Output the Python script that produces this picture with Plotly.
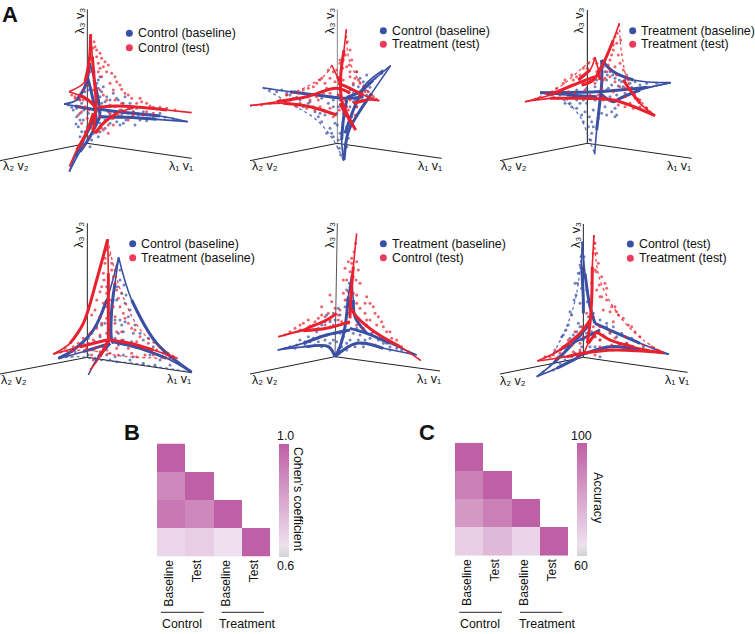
import plotly.graph_objects as go

W, H = 755, 634
BLUE = "#3a50a4"
RED = "#e9212e"
LEG_RED = "#ee3a5f"
FONT = "Liberation Sans, Arial, sans-serif"

# ---------- A: projected coordinates (1 px = 3 units) ----------
P1_BLUE_ARMS = [
    [(563,365),(480,348),(400,340),(330,332),(285,325)],
    [(563,365),(470,358),(380,352),(300,350)],
    [(270,190),(262,230),(275,280),(285,330),(290,370)],
    [(270,190),(282,240),(295,300),(300,350)],
    [(192,312),(225,318),(260,325),(290,330)],
    [(192,312),(230,300),(255,260),(270,190)],
    [(208,515),(225,470),(250,420),(275,370),(290,330)],
    [(208,515),(240,455),(270,410),(300,350)],
]
P1_BLUE_CLOUD = [(300,230),(310,260),(320,290),(340,280),(355,300),(375,290),(390,310),(410,325),(430,335),(450,345),(480,340),(330,345),(350,365),(370,370),(395,350),(420,360),(300,370),(315,385),(240,340),(250,360),(235,380),(255,395),(240,410),(230,350),(220,330),(300,290),(290,250),(265,270),(250,290),(330,320),(345,335),(365,345),(385,340),(310,350),(280,400),(295,410),(275,420),(270,440),(245,310),(305,310),
    (295,240),(282,215),(305,275),(315,305),(325,335),(335,355),(345,320),(355,350),(365,330),(378,360),(400,335),(415,345),(440,355),(460,350),(495,352),(520,358),(405,375),(440,362),(350,295),(370,310),(385,325),(300,335),(260,300),(265,340),(252,330),(240,360),(228,372),(245,395),(262,380),(248,425),(300,395),(315,360),(285,355),(255,275),(238,298),(215,322),(205,315),(230,325),(345,350),(330,370),(360,375),(295,265),(330,300)]
P1_RED_ARMS = [
    [(575,338),(500,330),(420,322),(350,318),(295,322)],
    [(272,103),(277,170),(283,240),(288,300),(285,350),(280,395)],
    [(207,275),(235,285),(262,298),(285,320)],
    [(207,275),(255,245),(268,180),(272,103)],
    [(208,500),(230,450),(258,400),(280,340)],
    [(400,325),(350,340),(310,370),(285,400)],
]
P1_RED_CLOUD = [(285,140),(300,160),(295,190),(315,185),(320,215),(345,230),(330,250),(360,255),(375,280),(395,295),(420,295),(440,310),(305,230),(300,270),(345,300),(365,310),(460,322),(480,322),(340,355),(325,375),(325,400),(310,390),(240,320),(235,345),(250,300),(225,295),(245,370),(262,355),(265,410),(300,205),(290,170),(400,345),(430,345),(385,360),(355,345),(250,440),(320,300),(280,270),
    (290,150),(282,125),(278,145),(305,175),(310,200),(325,195),(335,220),(350,245),(340,270),(365,268),(385,285),(410,310),(425,305),(450,318),(500,325),(525,330),(295,215),(310,285),(330,315),(360,330),(375,335),(400,335),(440,335),(460,340),(330,340),(315,365),(305,385),(295,395),(285,370),(265,330),(245,335),(225,290),(215,285),(240,300),(255,320),(262,255),(270,215),(250,270),(300,350),(275,385),(340,375)]

P2_BLUE_ARMS = [
    [(422,197),(370,240),(330,275),(290,292)],
    [(422,197),(365,280),(325,340),(295,395),(282,480)],
    [(38,263),(120,275),(200,285),(290,295),(340,290)],
    [(281,483),(275,420),(280,360),(290,300)],
    [(400,210),(345,255),(310,330),(285,400)],
]
P2_BLUE_EDGES = [[(38,263),(120,310),(200,360),(250,420),(281,483)]]
P2_BLUE_CLOUD = [(350,225),(330,235),(310,255),(320,215),(300,270),(250,300),(220,330),(205,350),(240,385),(245,400),(190,320),(150,300),(120,285),(95,270),(135,275),(260,340),(270,400),(300,320),(315,300),(290,380),(265,420),(235,310),(180,305),(160,320),(255,370),
    (395,220),(375,235),(355,250),(340,245),(325,260),(345,270),(360,262),(335,300),(350,285),(315,320),(305,350),(300,375),(310,305),(270,300),(265,320),(250,320),(240,340),(225,345),(210,340),(195,335),(175,310),(140,292),(110,280),(80,275),(60,268),(215,365),(230,400),(250,410),(268,445),(272,465),(262,375),(280,340),(295,415),(290,440),(320,320),(175,290),(215,295),(245,290),(265,285),(310,280)]
P2_RED_ARMS = [
    [(0,317),(80,305),(170,290),(260,265),(300,280)],
    [(0,317),(100,310),(180,320),(260,345)],
    [(289,88),(282,150),(272,230),(275,300),(295,350),(317,390)],
    [(388,302),(340,285),(300,265),(265,250)],
    [(388,302),(350,300),(310,310)],
    [(317,390),(290,350),(270,310)],
    [(245,195),(262,230),(272,250)],
]
P2_RED_EDGES = [[(289,88),(295,170),(310,210),(340,260),(388,302)],[(245,195),(225,225),(170,260),(100,290)]]
P2_RED_CLOUD = [(300,150),(305,180),(320,215),(325,240),(300,230),(290,200),(270,190),(210,240),(190,260),(160,270),(130,295),(110,285),(230,265),(180,300),(140,320),(210,320),(240,325),(270,180),(310,250),(345,275),(250,215),(225,250),(200,290),(290,320),(315,345),
    (292,125),(286,165),(298,195),(278,205),(300,215),(315,235),(330,250),(355,275),(370,290),(280,240),(255,245),(240,235),(215,235),(200,250),(175,265),(145,280),(120,300),(90,300),(60,310),(35,315),(150,310),(170,325),(195,330),(225,335),(250,350),(268,330),(285,300),(265,285),(240,280),(220,280),(205,300),(300,300),(320,320),(305,365),(295,330),(330,290),(360,295),(280,180),(260,210),(235,210)]

P3_BLUE_ARMS = [
    [(512,248),(440,262),(360,270),(290,275),(120,278)],
    [(120,278),(200,285),(290,290)],
    [(284,463),(290,390),(298,320),(305,250),(305,180)],
    [(512,248),(400,240),(340,215),(305,180)],
    [(512,248),(420,270),(360,295),(340,305),(300,280)],
]
P3_BLUE_EDGES = [[(120,278),(190,300),(240,350),(265,410),(284,463)]]
P3_BLUE_CLOUD = [(330,215),(345,235),(365,245),(390,250),(420,255),(320,240),(335,255),(315,215),(210,310),(230,325),(245,345),(250,365),(265,380),(275,400),(345,325),(350,345),(320,345),(280,330),(260,310),(220,290),(180,285),(330,290),(305,340),(275,365),(230,300),
    (310,200),(322,225),(338,225),(358,240),(375,240),(405,245),(440,250),(470,250),(355,258),(395,262),(425,265),(375,280),(350,285),(320,270),(285,260),(260,265),(230,270),(200,278),(165,280),(145,285),(175,295),(195,310),(215,320),(240,310),(255,335),(268,350),(280,380),(272,420),(295,355),(335,335),(315,320),(285,300),(345,350),(325,265),(310,300),(290,240),(265,295),(250,300),(370,260),(440,262)]
P3_RED_ARMS = [
    [(358,70),(340,120),(310,190),(280,240),(245,255)],
    [(75,305),(150,285),(220,255),(285,230)],
    [(75,305),(150,295),(250,295),(340,300),(465,347)],
    [(465,347),(420,310),(390,270),(370,240)],
    [(285,172),(270,210),(235,240)],
    [(285,172),(295,210),(300,240)],
]
P3_RED_EDGES = [[(358,70),(365,160),(390,260),(465,347)],[(285,172),(240,210),(180,260),(100,298)]]
P3_RED_CLOUD = [(350,130),(340,150),(355,165),(330,180),(345,200),(320,215),(370,210),(350,225),(385,240),(400,285),(375,290),(355,315),(390,310),(215,225),(190,250),(250,205),(230,230),(165,275),(205,275),(255,270),(330,230),(310,240),(420,320),(290,215),(360,260),
    (345,110),(352,100),(340,135),(362,120),(360,190),(335,165),(325,195),(300,205),(315,235),(285,250),(262,205),(240,225),(220,240),(195,240),(170,265),(140,280),(115,295),(180,280),(225,280),(270,285),(305,265),(340,275),(375,265),(395,275),(405,295),(420,300),(440,325),(375,320),(400,325),(345,300),(310,290),(250,250),(270,245),(265,190),(290,190),(330,210),(345,245),(380,225),(295,285),(200,298)]

P4_BLUE_ARMS = [
    [(356,172),(345,250),(335,330),(335,420),(340,430)],
    [(575,517),(500,475),(420,445),(340,425)],
    [(175,475),(250,455),(330,430)],
    [(265,525),(295,470),(330,430)],
    [(356,172),(320,300),(280,390),(220,450),(175,475)],
    [(356,172),(395,300),(470,430),(575,517)],
]
P4_BLUE_EDGES = [[(175,475),(240,470),(300,480),(400,490),(575,517)]]
P4_BLUE_CLOUD = [(360,240),(365,280),(350,300),(375,310),(385,350),(360,360),(370,395),(400,400),(430,420),(410,440),(300,350),(315,370),(290,380),(265,415),(250,430),(345,470),(370,465),(330,480),(400,470),(450,465),(480,480),(310,440),(280,450),(355,400),(340,280),(320,260),(330,390),
    (350,200),(360,210),(372,255),(378,285),(352,260),(340,300),(390,330),(375,365),(405,375),(420,400),(445,415),(460,440),(490,460),(510,475),(445,450),(395,425),(370,420),(345,415),(355,435),(320,400),(300,410),(285,425),(305,375),(275,400),(245,440),(225,455),(205,465),(265,465),(285,475),(320,465),(350,485),(390,480),(430,490),(465,495),(510,495),(330,340),(320,320),(345,360),(310,325),(365,375)]
P4_RED_ARMS = [
    [(323,118),(325,220),(325,340),(325,430)],
    [(533,475),(460,450),(390,430),(330,420)],
    [(160,462),(240,440),(320,420)],
    [(270,510),(300,470),(325,420)],
    [(160,462),(210,430),(250,370),(290,240),(323,118)],
]
P4_RED_EDGES = [[(323,118),(365,280),(430,400),(533,475)],[(160,462),(250,450),(380,470),(533,475)]]
P4_RED_CLOUD = [(315,190),(335,190),(310,220),(340,230),(305,260),(350,270),(330,300),(360,320),(290,300),(370,340),(385,370),(300,350),(405,390),(280,420),(265,430),(345,370),(410,425),(445,430),(365,395),(300,405),(250,415),(220,440),(350,445),(300,440),(275,465),(395,460),(460,465),
    (320,150),(328,165),(315,175),(335,210),(312,240),(345,250),(300,275),(355,295),(320,280),(310,310),(340,320),(285,330),(275,345),(320,355),(345,350),(375,355),(395,385),(420,410),(350,395),(365,420),(385,445),(430,445),(470,450),(500,465),(435,465),(355,465),(330,460),(285,445),(260,445),(235,430),(215,455),(195,445),(270,400),(290,385),(305,370),(345,420),(280,480),(300,455),(320,450),(410,470)]

P5_BLUE_ARMS = [
    [(305,225),(295,290),(285,380),(270,440),(255,470)],
    [(83,450),(160,430),(230,405),(300,390)],
    [(83,450),(170,440),(235,440),(255,470)],
    [(500,465),(420,430),(350,400),(300,385)],
    [(500,465),(400,445),(320,430),(255,470)],
    [(305,225),(310,300),(315,350),(350,400)],
]
P5_BLUE_CLOUD = [(230,345),(250,340),(265,325),(215,375),(190,415),(165,425),(140,435),(205,425),(225,420),(250,400),(280,410),(300,420),(330,405),(360,415),(385,420),(410,430),(440,445),(340,440),(375,435),(290,450),(275,420),(300,260),(290,300),(310,330),(265,375),(240,380),(200,395),(320,385),(350,430),(420,450),
    (298,250),(290,270),(305,285),(285,320),(295,340),(270,345),(255,360),(240,365),(225,365),(205,385),(175,410),(150,420),(120,440),(105,445),(135,445),(165,435),(195,435),(215,440),(240,430),(260,425),(270,400),(285,395),(310,400),(325,420),(345,420),(365,400),(395,420),(420,440),(455,450),(475,458),(265,450),(275,440),(290,430),(315,440),(335,430),(400,430),(230,405),(210,410),(180,425),(250,420)]
P5_RED_ARMS = [
    [(320,100),(310,200),(302,300),(300,355)],
    [(85,410),(160,392),(230,385),(300,365)],
    [(85,410),(170,385),(230,360),(260,340)],
    [(513,482),(450,440),(380,400),(320,350),(300,320)],
]
P5_RED_CLOUD = [(295,185),(285,205),(325,210),(280,240),(330,250),(290,240),(240,285),(215,320),(245,305),(285,300),(360,310),(370,320),(345,340),(385,350),(350,375),(175,360),(150,375),(120,395),(195,365),(225,350),(265,360),(380,375),(410,395),(425,415),(440,420),(295,275),(320,285),(370,395),(305,175),(330,325),
    (317,130),(312,155),(305,190),(300,215),(320,185),(310,230),(318,240),(305,260),(280,280),(270,330),(255,325),(265,345),(235,340),(215,345),(240,360),(205,355),(190,375),(160,370),(135,385),(105,405),(350,290),(375,340),(395,365),(420,395),(455,440),(475,455),(360,360),(345,310),(320,310),(310,280),(400,380),(350,360),(340,385),(320,375),(295,370),(275,365),(250,375),(225,375),(180,378),(150,390)]

P6_BLUE_ARMS = [
    [(247,125),(255,220),(270,320),(285,370)],
    [(247,125),(245,200),(250,300),(250,340)],
    [(507,463),(420,430),(340,395),(285,370)],
    [(507,463),(420,450),(330,440),(230,470)],
    [(110,530),(160,490),(220,430),(270,370)],
    [(110,530),(170,505),(240,470)],
    [(160,460),(240,420),(300,390)],
]
P6_BLUE_EDGES = [[(247,125),(230,280),(200,380),(160,460)]]
P6_BLUE_CLOUD = [(235,220),(228,285),(215,345),(205,375),(190,405),(225,250),(240,310),(300,420),(330,420),(350,410),(380,430),(300,450),(270,440),(245,440),(220,405),(205,440),(190,470),(170,480),(240,380),(320,380),(355,430),(400,440),(260,400),(285,410),(225,460),(160,510),(180,490),(310,405),(265,350),(340,450),
    (243,170),(252,170),(240,195),(232,250),(222,300),(210,335),(198,390),(185,410),(260,270),(245,265),(262,305),(280,340),(300,360),(320,370),(340,380),(365,400),(395,415),(430,440),(460,445),(480,455),(330,400),(295,400),(275,395),(250,385),(230,395),(210,415),(195,445),(175,470),(150,495),(130,515),(195,480),(215,470),(240,455),(260,460),(285,440),(320,440),(370,445),(300,470),(250,420),(235,370)]
P6_RED_ARMS = [
    [(282,105),(277,200),(275,300),(270,370),(262,430)],
    [(490,458),(400,440),(330,420),(290,395)],
    [(112,483),(180,450),(240,400),(270,360)],
    [(112,483),(200,470),(250,460),(340,450),(490,458)],
    [(250,465),(265,430),(290,395)],
]
P6_RED_EDGES = [[(282,105),(300,240),(360,350),(430,420),(490,458)]]
P6_RED_CLOUD = [(290,160),(295,190),(305,230),(315,250),(320,265),(300,290),(335,320),(350,335),(370,355),(385,375),(405,395),(285,210),(290,270),(310,330),(340,365),(375,410),(430,435),(200,435),(180,460),(160,465),(225,415),(240,430),(265,400),(300,420),(330,395),(280,380),(150,470),(220,455),(300,440),(360,435),
    (285,130),(280,160),(288,215),(298,255),(275,250),(305,290),(320,300),(330,335),(345,320),(355,345),(395,380),(420,410),(455,440),(470,450),(260,340),(245,380),(225,395),(205,420),(190,440),(165,450),(135,470),(170,475),(195,470),(235,470),(285,465),(320,450),(390,450),(430,450),(250,410),(285,410),(315,410),(345,415),(265,370),(280,350),(300,380),(335,435),(380,430),(240,450),(215,435),(180,450)]

PANEL_SERIES = [
    ("Control (baseline)", "Control (test)"),
    ("Control (baseline)", "Treatment (test)"),
    ("Treatment (baseline)", "Treatment (test)"),
    ("Control (baseline)", "Treatment (baseline)"),
    ("Treatment (baseline)", "Control (test)"),
    ("Control (test)", "Treatment (test)"),
]
PANEL_DATA = [
    (P1_BLUE_ARMS, [], P1_BLUE_CLOUD, P1_RED_ARMS, [], P1_RED_CLOUD),
    (P2_BLUE_ARMS, P2_BLUE_EDGES, P2_BLUE_CLOUD, P2_RED_ARMS, P2_RED_EDGES, P2_RED_CLOUD),
    (P3_BLUE_ARMS, P3_BLUE_EDGES, P3_BLUE_CLOUD, P3_RED_ARMS, P3_RED_EDGES, P3_RED_CLOUD),
    (P4_BLUE_ARMS, P4_BLUE_EDGES, P4_BLUE_CLOUD, P4_RED_ARMS, P4_RED_EDGES, P4_RED_CLOUD),
    (P5_BLUE_ARMS, [], P5_BLUE_CLOUD, P5_RED_ARMS, [], P5_RED_CLOUD),
    (P6_BLUE_ARMS, P6_BLUE_EDGES, P6_BLUE_CLOUD, P6_RED_ARMS, P6_RED_EDGES, P6_RED_CLOUD),
]
# panel frame: left, top, width, height in px
PANEL_BOX = [(0,0,250,190),(250,0,250,190),(500,0,255,190),(0,200,250,190),(250,200,250,190),(500,200,255,190)]
# origin, z-axis top, x-axis end, y-axis end, in crop units
AXES_GEOM = [
    ((262,430),(262,28),(575,475),(0,482)),
    ((262,430),(262,28),(575,475),(0,482)),
    ((262,430),(262,30),(575,475),(0,482)),
    ((262,472),(262,70),(575,518),(0,522)),
    ((255,470),(262,70),(570,513),(0,522)),
    ((250,472),(250,72),(563,517),(0,522)),
]
Z_COLOR = ["#333333", "#888888", "#111111", "#222222", "#555555", "#222222"]
LEGEND_POS = [(388,100,143),(400,92,133),(398,92,133),(398,131,173),(400,131,173),(391,132,175)]
LABEL_POS = [
    ((240,62),(543,497),(47,497)),
    ((240,62),(541,497),(45,497)),
    ((236,62),(538,497),(43,497)),
    ((236,105),(538,537),(43,540)),
    ((240,105),(538,537),(45,540)),
    ((228,105),(532,540),(38,542)),
]

# ---------- B and C ----------
LABELS = ["Baseline", "Test", "Baseline", "Test"]
COHEN = [
    [1.0, None, None, None],
    [0.885, 1.0, None, None],
    [0.93, 0.885, 1.0, None],
    [0.668, 0.69, 0.64, 1.0],
]
ACCURACY = [
    [100, None, None, None],
    [91, 100, None, None],
    [84, 91, 100, None],
    [68.7, 74.8, 67, 100],
]
SCALE = [[0, "#d1d3d4"], [0.1, "#eee0ee"], [1, "#bf5fa5"]]


def fx(v): return v / W
def fy(v): return 1 - v / H


fig = go.Figure()
ann = []
shapes = []
layout = {}


def text(x, y, s, xref="paper", yref="paper", size=12.4, angle=0, anchor="center", bold=False):
    ann.append(dict(x=x, y=y, xref=xref, yref=yref, text=f"<b>{s}</b>" if bold else s, showarrow=False,
                    textangle=angle, xanchor=anchor, yanchor="middle",
                    font=dict(family=FONT, size=size, color="#111111"), borderpad=0, bgcolor="rgba(0,0,0,0)"))


def lines(curves, xa, ya, color, width, dash="solid", opacity=1.0):
    for c in curves:
        fig.add_trace(go.Scatter(x=[p[0] for p in c], y=[p[1] for p in c], xaxis=xa, yaxis=ya, mode="lines",
                                 line=dict(color=color, width=width, dash=dash, shape="spline"),
                                 opacity=opacity, hoverinfo="skip", showlegend=False))


def tapered(curves, xa, ya, color):
    # outer vertex of every arm is its tip: stroke narrows towards it
    lines(curves, xa, ya, color, 1.6)
    lines([c[1:] for c in curves], xa, ya, color, 3.0)


for i, (box, data, names, geom, leg, lab) in enumerate(zip(PANEL_BOX, PANEL_DATA, PANEL_SERIES, AXES_GEOM, LEGEND_POS, LABEL_POS)):
    n = i + 1
    xa, ya = f"x{n}", f"y{n}"
    l, t, w, h = box
    layout[f"xaxis{n}"] = dict(domain=[fx(l), fx(l + w)], range=[0, 3 * w], visible=False, anchor=ya)
    layout[f"yaxis{n}"] = dict(domain=[fy(t + h), fy(t)], range=[3 * h, 0], visible=False, anchor=xa)
    o, z, xe, ye = geom
    lines([[o, z]], xa, ya, Z_COLOR[i], 1)
    for end in (xe, ye):
        lines([[o, end]], xa, ya, "#222222", 1)
    b_arm, b_edge, b_cloud, r_arm, r_edge, r_cloud = data
    for arms, edges, cloud, col in ((b_arm, b_edge, b_cloud, BLUE), (r_arm, r_edge, r_cloud, RED)):
        fig.add_trace(go.Scatter(x=[p[0] for p in cloud], y=[p[1] for p in cloud], xaxis=xa, yaxis=ya, mode="markers",
                                 marker=dict(color=col, size=3, line=dict(width=0)), opacity=0.7,
                                 hoverinfo="skip", showlegend=False))
        lines(edges, xa, ya, col, 1.3, "dot", 0.8)
        tapered(arms, xa, ya, col)
    for yy, name, col in ((leg[1], names[0], BLUE), (leg[2], names[1], LEG_RED)):
        fig.add_trace(go.Scatter(x=[leg[0]], y=[yy], xaxis=xa, yaxis=ya, mode="markers",
                                 marker=dict(color=col, size=7, line=dict(width=0)), hoverinfo="skip", showlegend=False))
        text(leg[0] + 22, yy, name, xa, ya, anchor="left")
    text(lab[0][0], lab[0][1], "λ₃ v₃", xa, ya, angle=-90)
    text(lab[1][0], lab[1][1], "λ₁ v₁", xa, ya)
    text(lab[2][0], lab[2][1], "λ₂ v₂", xa, ya)

# heatmaps
HEAT = [
    dict(z=COHEN, zmin=0.6, zmax=1.0, left=157, top=443.5, bar=279.3, title="Cohen's coefficient", title_x=298, title_y=499,
         hi="1.0", lo="0.6", tick_c=285.7, lines=[(161, 203.7), (221.7, 264)], groups=[182, 248], letter=(132, 432, "B")),
    dict(z=ACCURACY, zmin=60, zmax=100, left=455, top=442.7, bar=577, title="Accuracy", title_x=597.7, title_y=498,
         hi="100", lo="60", tick_c=581, lines=[(459.3, 502), (520, 562.3)], groups=[480, 547], letter=(427, 432, "C")),
]
for k, hm in enumerate(HEAT):
    n = 7 + k
    xa, ya = f"x{n}", f"y{n}"
    layout[f"xaxis{n}"] = dict(domain=[fx(hm["left"]), fx(hm["left"] + 113)], range=[-0.5, 3.5], anchor=ya, showgrid=False, zeroline=False,
                               showline=False, tickmode="array", tickvals=[0, 1, 2, 3], ticktext=LABELS, tickangle=-90, ticks="",
                               ticklabelstandoff=0, ticklabelshift=-2, tickfont=dict(family=FONT, size=12.2, color="#111111"))
    layout[f"yaxis{n}"] = dict(domain=[fy(hm["top"] + 113), fy(hm["top"])], range=[3.5, -0.5], anchor=xa, visible=False)
    fig.add_trace(go.Heatmap(z=hm["z"], xaxis=xa, yaxis=ya, zmin=hm["zmin"], zmax=hm["zmax"], colorscale=SCALE, hoverongaps=False,
                             colorbar=dict(x=fx(hm["bar"]), xanchor="left", y=fy(hm["top"]), yanchor="top", lenmode="pixels", len=113,
                                           thicknessmode="pixels", thickness=10, xpad=0, ypad=0, outlinewidth=0, ticks="", showticklabels=False)))
    text(fx(hm["tick_c"]), fy(435.7), hm["hi"])
    text(fx(hm["tick_c"]), fy(565.5), hm["lo"])
    text(fx(hm["title_x"]), fy(hm["title_y"]), hm["title"], angle=90)
    for (a, b), c, name in zip(hm["lines"], hm["groups"], ("Control", "Treatment")):
        shapes.append(dict(type="line", xref="paper", yref="paper", x0=fx(a), x1=fx(b), y0=fy(612.3), y1=fy(612.3),
                           line=dict(color="#222222", width=1)))
        text(fx(c), fy(623.7), name)
    lx, ly, letter = hm["letter"]
    text(fx(lx), fy(ly), letter, size=22, bold=True)
text(fx(10), fy(15), "A", size=22, bold=True)

fig.update_layout(width=W, height=H, margin=dict(l=0, r=0, t=0, b=0), paper_bgcolor="white", plot_bgcolor="white",
                  showlegend=False, annotations=ann, shapes=shapes, **layout)
fig.write_html("out.html", config=dict(displayModeBar=False), post_script="document.body.style.margin='0';")
